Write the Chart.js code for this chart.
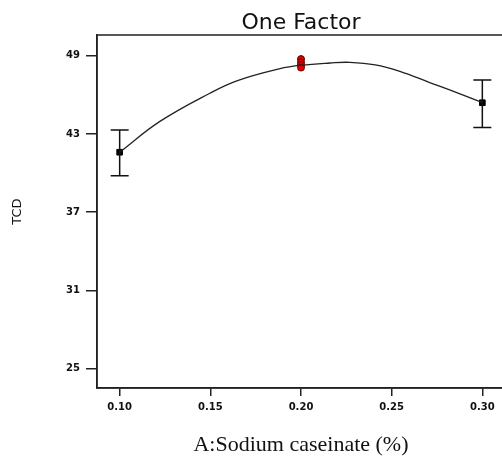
<!DOCTYPE html>
<html>
<head>
<meta charset="utf-8">
<script src="https://cdn.jsdelivr.net/npm/chart.js@4/dist/chart.umd.min.js"></script>
<style>
  html, body { margin: 0; padding: 0; background: #fff; overflow: hidden; }
  #wrap { position: relative; width: 512px; height: 458px; }
</style>
</head>
<body>
<div id="wrap"><canvas id="chart"></canvas></div>
<script>
// design points (mean + error bar) at the two ends
const endX = [0.10, 0.30];
const endY = [41.6, 45.4];
const endLow = [39.8, 43.5];
const endHigh = [43.3, 47.15];

// replicate runs at the centre point
const centerX = [0.20, 0.20, 0.20, 0.20];
const centerY = [48.75, 48.5, 48.3, 48.1];

// fitted curve
const curveX = [0.10, 0.122, 0.15, 0.165, 0.188, 0.20, 0.216, 0.227, 0.241, 0.2545, 0.271, 0.2877, 0.30];
const curveY = [41.6, 43.95, 46.15, 47.1, 48.0, 48.28, 48.45, 48.5, 48.3, 47.8, 46.95, 46.08, 45.4];

const xTicks = [0.10, 0.15, 0.20, 0.25, 0.30];
const yTicks = [25, 31, 37, 43, 49];

const axisColor = '#222';
const tickFont = { family: 'DejaVu Sans', size: 10, weight: 'bold' };

const frame = {
  id: 'frame',
  afterDraw(chart) {
    const a = chart.chartArea;
    const ctx = chart.ctx;
    ctx.save();
    ctx.strokeStyle = axisColor;
    ctx.lineWidth = 1.5;
    ctx.strokeRect(a.left, a.top, a.right - a.left, a.bottom - a.top);
    ctx.restore();
  }
};

const errorBars = {
  id: 'errorBars',
  afterDatasetsDraw(chart) {
    const xs = chart.scales.x, ys = chart.scales.y;
    const ctx = chart.ctx;
    ctx.save();
    ctx.strokeStyle = '#111';
    ctx.lineWidth = 1.5;
    endX.forEach((x, i) => {
      const px = xs.getPixelForValue(x);
      const lo = ys.getPixelForValue(endLow[i]);
      const hi = ys.getPixelForValue(endHigh[i]);
      ctx.beginPath();
      ctx.moveTo(px, lo); ctx.lineTo(px, hi);
      ctx.moveTo(px - 9, lo); ctx.lineTo(px + 9, lo);
      ctx.moveTo(px - 9, hi); ctx.lineTo(px + 9, hi);
      ctx.stroke();
    });
    ctx.restore();
  }
};

new Chart(document.getElementById('chart'), {
  type: 'scatter',
  data: {
    datasets: [
      {
        data: curveX.map((x, i) => ({ x: x, y: curveY[i] })),
        showLine: true,
        tension: 0.4,
        borderColor: '#222',
        borderWidth: 1.3,
        pointRadius: 0
      },
      {
        data: endX.map((x, i) => ({ x: x, y: endY[i] })),
        pointStyle: 'rect',
        pointRadius: 4,
        backgroundColor: '#000',
        borderColor: '#000'
      },
      {
        data: centerX.map((x, i) => ({ x: x, y: centerY[i] })),
        pointStyle: 'circle',
        pointRadius: 3.5,
        backgroundColor: '#e00000',
        borderColor: '#600',
        borderWidth: 1
      }
    ]
  },
  options: {
    responsive: true,
    maintainAspectRatio: false,
    animation: false,
    layout: { padding: { left: 0, right: 7, top: 0, bottom: 0 } },
    plugins: {
      legend: { display: false },
      tooltip: { enabled: false }
    },
    scales: {
      top: {
        type: 'linear',
        position: 'top',
        min: 0.0875,
        max: 0.3125,
        afterFit: (s) => { s.height = 35; },
        ticks: { display: false },
        grid: { display: false },
        border: { display: false },
        title: {
          display: true,
          text: 'One Factor',
          color: '#111',
          font: { family: 'DejaVu Sans', size: 22, weight: 'normal' },
          padding: { top: 10, bottom: 0 }
        }
      },
      x: {
        type: 'linear',
        min: 0.0875,
        max: 0.3125,
        afterBuildTicks: (s) => { s.ticks = xTicks.map(v => ({ value: v })); },
        afterFit: (s) => { s.height = 70; },
        ticks: {
          color: '#111',
          font: tickFont,
          padding: 5,
          callback: (v) => Number(v).toFixed(2)
        },
        grid: { drawOnChartArea: false, drawTicks: true, tickLength: 8, color: axisColor, lineWidth: 1.5 },
        border: { display: true, color: axisColor, width: 1.5 },
        title: {
          display: true,
          text: 'A:Sodium caseinate (%)',
          color: '#111',
          font: { family: 'Liberation Serif', size: 22 },
          padding: { top: 0, bottom: 0 }
        }
      },
      y: {
        min: 23.5,
        max: 50.6,
        afterBuildTicks: (s) => { s.ticks = yTicks.map(v => ({ value: v })); },
        afterFit: (s) => { s.width = 97; },
        ticks: { color: '#111', font: tickFont, padding: 6 },
        grid: { drawOnChartArea: false, drawTicks: true, tickLength: 11, color: axisColor, lineWidth: 1.5 },
        border: { display: true, color: axisColor, width: 1.5 },
        title: {
          display: true,
          text: 'TCD',
          color: '#111',
          font: { family: 'DejaVu Sans', size: 13 },
          padding: { top: 10, bottom: 0 }
        }
      }
    }
  },
  plugins: [frame, errorBars]
});
</script>
</body>
</html>
